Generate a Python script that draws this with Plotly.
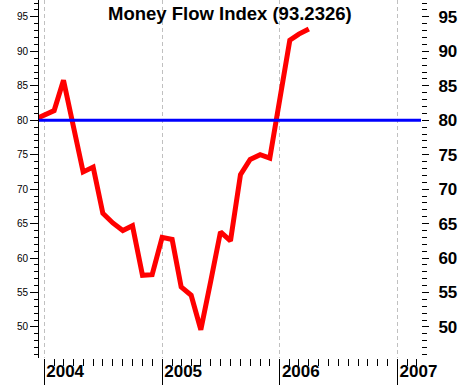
import plotly.graph_objects as go

# ---- data ----
months = ["2003-12-01", "2004-01-01", "2004-02-01", "2004-03-01", "2004-04-01", "2004-05-01",
          "2004-06-01", "2004-07-01", "2004-08-01", "2004-09-01", "2004-10-01", "2004-11-01",
          "2004-12-01", "2005-01-01", "2005-02-01", "2005-03-01", "2005-04-01", "2005-05-01",
          "2005-06-01", "2005-07-01", "2005-08-01", "2005-09-01", "2005-10-01", "2005-11-01",
          "2005-12-01", "2006-01-01", "2006-02-01", "2006-03-01", "2006-04-01"]
mfi = [80.1, 80.7, 81.4, 85.8, 79.2, 72.5,
       73.2, 66.5, 65.1, 64.0, 64.7, 57.5,
       57.6, 63.0, 62.7, 55.8, 54.6, 49.6,
       56.7, 63.8, 62.5, 72.1, 74.3, 75.0,
       74.5, 83.0, 91.6, 92.5, 93.2326]
threshold = 80
last_value = 93.2326
title_text = f"Money Flow Index ({last_value})"
y_range = [45.5, 97.45]
x_range = ["2003-12-16", "2007-03-15"]

FONT = "Liberation Sans, Arial, sans-serif"

fig = go.Figure()
fig.add_trace(go.Scatter(x=months, y=mfi, mode="lines",
                         line=dict(color="#ff0000", width=5),
                         hoverinfo="skip", showlegend=False, yaxis="y"))
# threshold line spanning the whole time axis, on the right-hand scale
fig.add_trace(go.Scatter(x=x_range, y=[threshold, threshold], mode="lines",
                         line=dict(color="#0000ff", width=3),
                         hoverinfo="skip", showlegend=False, yaxis="y2"))

fig.update_layout(
    width=460, height=385,
    margin=dict(l=39, r=39, t=0, b=27, autoexpand=False),
    paper_bgcolor="white", plot_bgcolor="white",
    showlegend=False,
    xaxis=dict(
        type="date", range=x_range, automargin=False,
        tick0="2004-01-01", dtick="M12", tickformat="%Y",
        ticks="outside", ticklen=27, tickwidth=1, tickcolor="black",
        ticklabelshift=21, ticklabelstandoff=-29,
        tickfont=dict(family=FONT, size=17, color="black", weight="bold"),
        showgrid=True, gridcolor="#c0c0c0", griddash="4px,3px", gridwidth=1,
        showline=False, zeroline=False,
        minor=dict(dtick="M1", tick0="2004-01-01", ticks="outside", ticklen=7,
                   tickcolor="black", tickwidth=1, showgrid=False),
    ),
    yaxis=dict(
        range=y_range, dtick=5, tick0=0, automargin=False,
        ticks="outside", ticklen=8, tickcolor="black", tickwidth=1,
        tickfont=dict(family=FONT, size=10, color="black"),
        showline=True, linecolor="black", linewidth=1,
        showgrid=False, zeroline=False,
        minor=dict(dtick=1, ticks="outside", ticklen=4, tickcolor="black", showgrid=False),
    ),
    yaxis2=dict(
        range=y_range, dtick=5, tick0=0, overlaying="y", side="right", anchor="x",
        automargin=False,
        ticks="outside", ticklen=7, tickcolor="black", tickwidth=1,
        ticklabelstandoff=6,
        tickfont=dict(family=FONT, size=17, color="black", weight="bold"),
        showline=False, showgrid=False, zeroline=False,
        minor=dict(dtick=1, ticks="outside", ticklen=5, tickcolor="black", showgrid=False),
    ),
    annotations=[dict(text=f"<b>{title_text}</b>", x=0.5, y=1, xref="paper", yref="paper",
                      xanchor="center", yanchor="top", yshift=-1, showarrow=False,
                      font=dict(family=FONT, size=18.5, color="black"))],
)

fig.write_html("out.html", config={"displayModeBar": False},
               post_script="document.body.style.margin='0';")
